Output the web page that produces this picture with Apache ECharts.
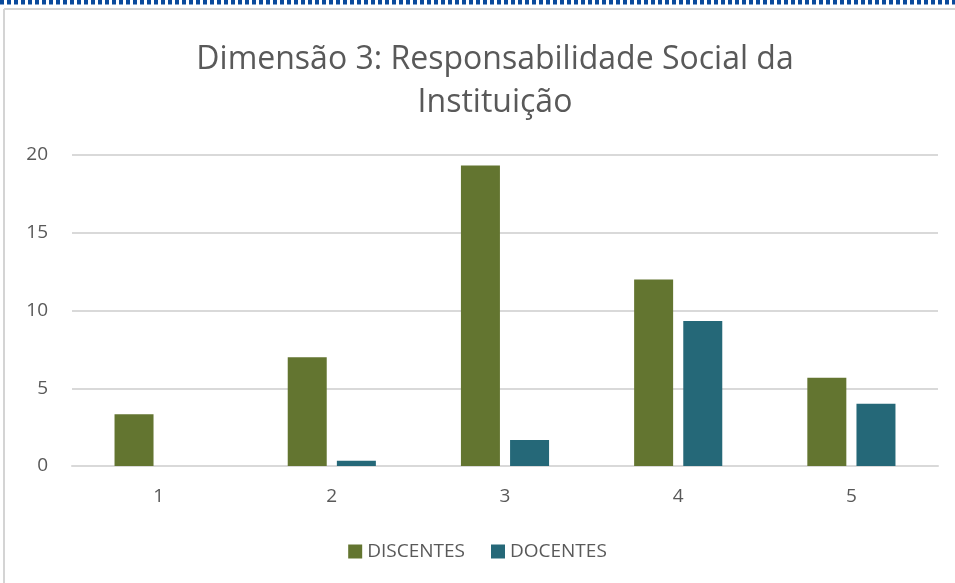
<!DOCTYPE html>
<html>
<head>
<meta charset="utf-8">
<script src="https://cdn.jsdelivr.net/npm/echarts@6/dist/echarts.min.js"></script>
<style>
  html, body { margin: 0; padding: 0; background: #fff; }
  #chart { width: 955px; height: 583px; }
</style>
</head>
<body>
<div id="chart"></div>
<script>
const categories = ['1', '2', '3', '4', '5'];
const discentes = [3.33, 7, 19.33, 12, 5.67];
const docentes = [0, 0.33, 1.67, 9.33, 4];
const yTicks = [0, 5, 10, 15, 20];

const font = 'Open Sans';
const textColor = '#595959';

const chart = echarts.init(document.getElementById('chart'));

const option = {
  backgroundColor: '#fff',
  animation: false,
  title: {
    text: 'Dimensão 3: Responsabilidade Social da\nInstituição',
    left: 490,
    top: 33,
    textAlign: 'center',
    textStyle: {
      fontFamily: font,
      fontWeight: 'normal',
      fontSize: 32,
      lineHeight: 43,
      color: textColor
    }
  },
  legend: {
    bottom: 17,
    left: 'center',
    itemWidth: 14,
    itemHeight: 14,
    itemGap: 26,
    icon: 'rect',
    textStyle: { fontFamily: font, fontSize: 19, color: textColor },
    data: ['DISCENTES', 'DOCENTES']
  },
  grid: { left: 72, right: 17, top: 155, bottom: 117 },
  xAxis: {
    type: 'category',
    data: categories,
    axisTick: { show: false },
    axisLine: { lineStyle: { color: '#d9d9d9', width: 2 } },
    axisLabel: { fontFamily: font, fontSize: 19, color: textColor, margin: 21 }
  },
  yAxis: {
    type: 'value',
    min: yTicks[0],
    max: yTicks[yTicks.length - 1],
    interval: 5,
    axisLine: { show: false },
    axisTick: { show: false },
    splitLine: { lineStyle: { color: '#d9d9d9', width: 2 } },
    axisLabel: { fontFamily: font, fontSize: 19, color: textColor, margin: 24 }
  },
  series: [
    {
      name: 'DISCENTES',
      type: 'bar',
      data: discentes,
      barWidth: 39,
      barGap: '26%',
      itemStyle: { color: '#637530' }
    },
    {
      name: 'DOCENTES',
      type: 'bar',
      data: docentes,
      barWidth: 39,
      itemStyle: { color: '#256878' }
    }
  ],
  graphic: [
    {
      type: 'line',
      shape: { x1: 0, y1: 2, x2: 955, y2: 2 },
      style: { stroke: '#0a4a9c', lineWidth: 5, lineDash: [4, 3] }
    },
    {
      type: 'line',
      shape: { x1: 4, y1: 9, x2: 955, y2: 9 },
      style: { stroke: '#d4d4d4', lineWidth: 2 }
    },
    {
      type: 'line',
      shape: { x1: 4, y1: 9, x2: 4, y2: 583 },
      style: { stroke: '#d4d4d4', lineWidth: 2 }
    }
  ]
};

chart.setOption(option);
</script>
</body>
</html>
